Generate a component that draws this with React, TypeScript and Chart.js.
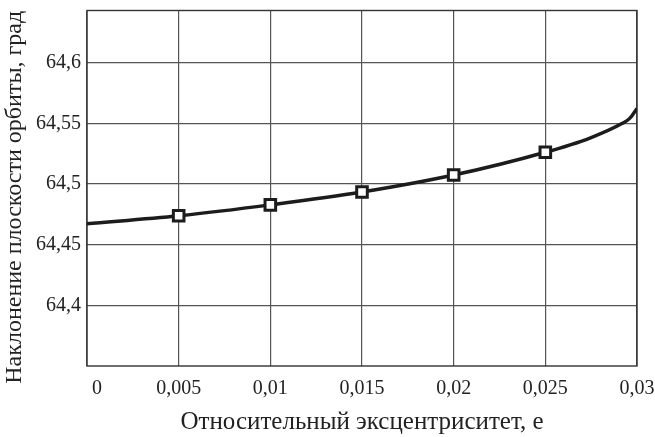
import React, { useEffect, useRef } from "react";
import { Chart, registerables } from "chart.js";

Chart.register(...registerables);

const xTicks = [0, 0.005, 0.01, 0.015, 0.02, 0.025, 0.03];
const xTickLabels = ["    0", "0,005", "0,01", "0,015", "0,02", "0,025", "0,03"];
const yTicks = [64.4, 64.45, 64.5, 64.55, 64.6];
const yTickLabels = ["64,4", "64,45", "64,5", "64,55", "64,6"];

const curveE = [0, 0.005, 0.01, 0.015, 0.02, 0.025, 0.0274, 0.0292, 0.0296, 0.03];
const curveI = [64.4672, 64.4738, 64.4828, 64.4934, 64.5074, 64.5262, 64.5377, 64.55, 64.5541, 64.5623];

const markerE = [0.005, 0.01, 0.015, 0.02, 0.025];
const markerI = [64.4738, 64.4828, 64.4934, 64.5074, 64.5262];

const xTitle = "Относительный эксцентриситет, е";
const yTitle = "Наклонение плоскости орбиты, град";

const FONT = "'Liberation Serif', 'DejaVu Serif', serif";
const INK = "#1c1c1c";
const GRID = "#555555";

const framePlugin = {
  id: "frame",
  beforeDatasetsDraw(chart: any) {
    const { ctx, chartArea } = chart;
    ctx.save();
    ctx.strokeStyle = "#333333";
    ctx.lineWidth = 1.4;
    ctx.strokeRect(chartArea.left, chartArea.top, chartArea.right - chartArea.left, chartArea.bottom - chartArea.top);
    ctx.restore();
  },
};

export default function App() {
  const ref = useRef<HTMLCanvasElement | null>(null);

  useEffect(() => {
    if (!ref.current) return;
    const chart = new Chart(ref.current, {
      type: "scatter",
      data: {
        datasets: [
          {
            label: "markers",
            data: markerE.map((e, i) => ({ x: e, y: markerI[i] })),
            showLine: false,
            pointStyle: "rect",
            pointRadius: 7.5,
            pointBorderWidth: 3,
            pointBackgroundColor: "#ffffff",
            pointBorderColor: INK,
            order: 0,
          },
          {
            label: "curve",
            data: curveE.map((e, i) => ({ x: e, y: curveI[i] })),
            showLine: true,
            pointRadius: 0,
            borderWidth: 3.5,
            borderColor: INK,
            cubicInterpolationMode: "monotone",
            order: 1,
          },
        ],
      },
      options: {
        animation: false,
        responsive: true,
        maintainAspectRatio: false,
        devicePixelRatio: 1,
        layout: { padding: { top: 9, right: 18, left: 0, bottom: 0 } },
        plugins: {
          legend: { display: false },
          tooltip: { enabled: false },
        },
        scales: {
          x: {
            type: "linear",
            min: 0,
            max: 0.03,
            afterBuildTicks: (scale: any) => {
              scale.ticks = xTicks.map((v) => ({ value: v }));
            },
            afterFit: (scale: any) => {
              scale.height = 71;
              scale.paddingLeft = 0;
              scale.paddingRight = 0;
            },
            grid: { color: GRID, lineWidth: 1.2, drawTicks: false },
            border: { display: false },
            ticks: {
              padding: 11,
              color: "#222",
              font: { family: FONT, size: 20 },
              maxRotation: 0,
              autoSkip: false,
              callback: (_v: any, i: number) => xTickLabels[i],
            },
            title: {
              display: true,
              text: xTitle,
              color: "#222",
              font: { family: FONT, size: 25 },
              padding: { top: 0, bottom: 0 },
            },
          },
          y: {
            type: "linear",
            min: 64.35,
            max: 64.643,
            afterBuildTicks: (scale: any) => {
              scale.ticks = yTicks.map((v) => ({ value: v }));
            },
            afterFit: (scale: any) => {
              scale.width = 87;
              scale.paddingTop = 0;
              scale.paddingBottom = 0;
            },
            grid: { color: GRID, lineWidth: 1.2, drawTicks: false },
            border: { display: false },
            ticks: {
              padding: 6,
              color: "#222",
              font: { family: FONT, size: 20 },
              autoSkip: false,
              callback: (_v: any, i: number) => yTickLabels[i],
            },
            title: {
              display: true,
              text: yTitle + "   ",
              color: "#222",
              font: { family: FONT, size: 24 },
              padding: { top: 0, bottom: 0 },
            },
          },
        },
      },
      plugins: [framePlugin],
    } as any);
    return () => chart.destroy();
  }, []);

  return (
    <div style={{ position: "fixed", left: 0, top: 0, width: 655, height: 437, background: "#fff" }}>
      <canvas ref={ref} />
    </div>
  );
}
